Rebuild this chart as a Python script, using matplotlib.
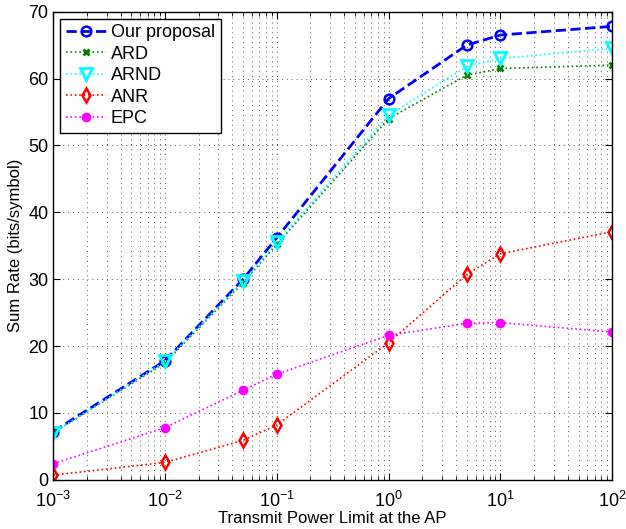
import matplotlib
matplotlib.use("Agg")
import matplotlib.pyplot as plt
from matplotlib.ticker import LogLocator, NullFormatter

plt.rcParams['font.family'] = ['Liberation Sans', 'DejaVu Sans']
plt.rcParams['mathtext.fontset'] = 'custom'
plt.rcParams['mathtext.rm'] = 'Liberation Sans'

power = [1e-3, 1e-2, 5e-2, 1e-1, 1, 5, 10, 100]
proposal = [7.2, 17.8, 30.0, 36.2, 57.0, 65.0, 66.5, 67.8]
ard = [7.0, 17.5, 29.5, 35.2, 54.0, 60.5, 61.5, 62.0]
arnd = [7.0, 17.7, 29.7, 35.5, 54.5, 61.8, 63.0, 64.5]
anr = [0.7, 2.6, 5.9, 8.2, 20.5, 30.7, 33.8, 37.1]
epc = [2.4, 7.8, 13.4, 15.8, 21.6, 23.4, 23.5, 22.1]

fig = plt.figure(figsize=(6.26, 5.29), dpi=100)
ax = fig.add_axes([0.085, 0.093, 0.893, 0.885])

ax.plot(power, proposal, '--', color='#0000ff', lw=2, marker='o', ms=7, mfc='none', mew=1.8, label='Our proposal')
ax.plot(power, ard, ':', color='#008000', lw=1.2, marker='x', ms=4, mew=2, label='ARD')
ax.plot(power, arnd, ':', color='#00ffff', lw=1.2, marker='v', ms=8, mfc='none', mew=2, label='ARND')
ax.plot(power, anr, ':', color='#ff0000', lw=1.2, marker='d', ms=7, mfc='none', mew=1.8, label='ANR')
ax.plot(power, epc, ':', color='#ff00ff', lw=1.2, marker='o', ms=6, mec='#ff00ff', label='EPC')

ax.set_xscale('log')
ax.set_xlim(1e-3, 1e2)
ax.set_ylim(0, 70)
ax.set_yticks(range(0, 71, 10))
ax.xaxis.set_minor_locator(LogLocator(base=10, subs=range(2, 10), numticks=20))
ax.xaxis.set_minor_formatter(NullFormatter())

grid_style = dict(ls=(0, (1, 4)), color='0.35', lw=0.7)
ax.grid(True, which='major', axis='both', **grid_style)
ax.grid(True, which='minor', axis='x', **grid_style)
ax.set_axisbelow(True)
ax.tick_params(which='both', direction='in', top=True, right=True, labelsize=13)
ax.tick_params(axis='x', which='major', pad=8)
ax.tick_params(which='major', length=5)
ax.tick_params(which='minor', length=3)
for s in ax.spines.values():
    s.set_linewidth(1.0)

ax.set_xlabel('Transmit Power Limit at the AP', fontsize=12, labelpad=0)
ax.set_ylabel('Sum Rate (bits/symbol)', fontsize=12)

leg = ax.legend(loc='upper left', fontsize=13, fancybox=False, edgecolor='k',
                framealpha=1, handlelength=2.2, borderpad=0.3, labelspacing=0.25,
                handletextpad=0.3, borderaxespad=0.4)
leg.get_frame().set_linewidth(1.0)

fig.savefig('out.png', dpi=100)
